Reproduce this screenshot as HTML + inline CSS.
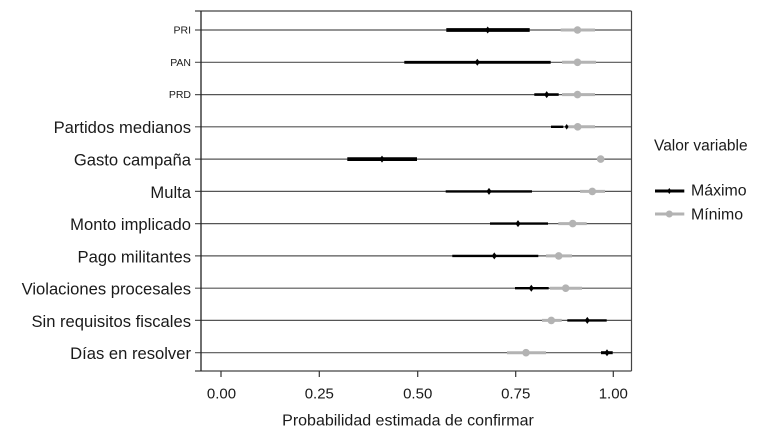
<!DOCTYPE html>
<html><head><meta charset="utf-8"><style>
html,body{margin:0;padding:0;background:#fff;}
svg{display:block;}
text{font-family:"Liberation Sans",sans-serif;fill:#1a1a1a;}
</style></head><body>
<svg width="770" height="438" viewBox="0 0 770 438" xmlns="http://www.w3.org/2000/svg">
<!-- row lines and left ticks -->
<g stroke="#555" stroke-width="1.2">
<line x1="195" y1="30" x2="631" y2="30"/>
<line x1="195" y1="62.3" x2="631" y2="62.3"/>
<line x1="195" y1="94.6" x2="631" y2="94.6"/>
<line x1="195" y1="126.8" x2="631" y2="126.8"/>
<line x1="195" y1="159.1" x2="631" y2="159.1"/>
<line x1="195" y1="191.4" x2="631" y2="191.4"/>
<line x1="195" y1="223.6" x2="631" y2="223.6"/>
<line x1="195" y1="255.9" x2="631" y2="255.9"/>
<line x1="195" y1="288.2" x2="631" y2="288.2"/>
<line x1="195" y1="320.4" x2="631" y2="320.4"/>
<line x1="195" y1="352.7" x2="631" y2="352.7"/>
</g>
<!-- frame -->
<g stroke="#444" stroke-width="1.2" fill="none">
<line x1="195" y1="11" x2="631.5" y2="11"/>
<line x1="631.5" y1="11" x2="631.5" y2="371"/>
<line x1="195" y1="371" x2="631.5" y2="371"/>
</g>
<line x1="201" y1="11" x2="201" y2="371" stroke="#222" stroke-width="1.3"/>
<!-- bottom ticks -->
<g stroke="#333" stroke-width="1.2">
<line x1="221" y1="371" x2="221" y2="377"/>
<line x1="319.3" y1="371" x2="319.3" y2="377"/>
<line x1="417.7" y1="371" x2="417.7" y2="377"/>
<line x1="515.7" y1="371" x2="515.7" y2="377"/>
<line x1="613.3" y1="371" x2="613.3" y2="377"/>
</g>
<!-- gray (Mínimo) -->
<g stroke="#b3b3b3" stroke-width="3" fill="#b3b3b3">
<line x1="560.7" y1="30" x2="595" y2="30"/><circle cx="577.5" cy="30" r="3.8" stroke="none"/>
<line x1="562" y1="62.3" x2="596" y2="62.3"/><circle cx="577.5" cy="62.3" r="3.8" stroke="none"/>
<line x1="562" y1="94.6" x2="595" y2="94.6"/><circle cx="577.5" cy="94.6" r="3.8" stroke="none"/>
<line x1="565" y1="126.8" x2="595" y2="126.8"/><circle cx="577.7" cy="126.8" r="3.8" stroke="none"/>
<line x1="597" y1="159.1" x2="604" y2="159.1"/><circle cx="600.7" cy="159.1" r="3.8" stroke="none"/>
<line x1="580" y1="191.4" x2="605" y2="191.4"/><circle cx="592.3" cy="191.4" r="3.8" stroke="none"/>
<line x1="558.3" y1="223.6" x2="586.7" y2="223.6"/><circle cx="572.7" cy="223.6" r="3.8" stroke="none"/>
<line x1="546" y1="255.9" x2="572" y2="255.9"/><circle cx="558.7" cy="255.9" r="3.8" stroke="none"/>
<line x1="550" y1="288.2" x2="582" y2="288.2"/><circle cx="565.7" cy="288.2" r="3.8" stroke="none"/>
<line x1="542" y1="320.4" x2="561.7" y2="320.4"/><circle cx="551.3" cy="320.4" r="3.8" stroke="none"/>
<line x1="507" y1="352.7" x2="546" y2="352.7"/><circle cx="526" cy="352.7" r="3.8" stroke="none"/>
</g>
<!-- black (Máximo) -->
<g stroke="#000" fill="#000">
<line x1="446.3" y1="30" x2="529.7" y2="30" stroke-width="3.8"/>
<line x1="404.3" y1="62.3" x2="550.7" y2="62.3" stroke-width="2.8"/>
<line x1="534.3" y1="94.6" x2="558.7" y2="94.6" stroke-width="2.6"/>
<line x1="551" y1="126.8" x2="563.3" y2="126.8" stroke-width="2.4"/>
<line x1="347.3" y1="159.1" x2="417" y2="159.1" stroke-width="3.8"/>
<line x1="445.7" y1="191.4" x2="532" y2="191.4" stroke-width="2.4"/>
<line x1="490" y1="223.6" x2="548" y2="223.6" stroke-width="2.4"/>
<line x1="452.3" y1="255.9" x2="538.3" y2="255.9" stroke-width="2.4"/>
<line x1="515" y1="288.2" x2="548.7" y2="288.2" stroke-width="2.4"/>
<line x1="567.3" y1="320.4" x2="606.7" y2="320.4" stroke-width="2.4"/>
<line x1="601" y1="352.7" x2="612.7" y2="352.7" stroke-width="3"/>
</g>
<g fill="#000">
<path d="M487.7 26.5 L490.3 30 L487.7 33.5 L485.1 30 Z"/>
<path d="M477.3 58.8 L479.9 62.3 L477.3 65.8 L474.7 62.3 Z"/>
<path d="M546.7 91.1 L549.3 94.6 L546.7 98.1 L544.1 94.6 Z"/>
<path d="M566.7 124 L568.5 126.8 L566.7 129.6 L564.9 126.8 Z"/>
<path d="M382 155.6 L384.6 159.1 L382 162.6 L379.4 159.1 Z"/>
<path d="M489 187.9 L491.6 191.4 L489 194.9 L486.4 191.4 Z"/>
<path d="M518 220.1 L520.6 223.6 L518 227.1 L515.4 223.6 Z"/>
<path d="M494.3 252.4 L496.9 255.9 L494.3 259.4 L491.7 255.9 Z"/>
<path d="M531.3 284.7 L533.9 288.2 L531.3 291.7 L528.7 288.2 Z"/>
<path d="M587.3 316.9 L589.9 320.4 L587.3 323.9 L584.7 320.4 Z"/>
<path d="M607 349.2 L609.6 352.7 L607 356.2 L604.4 352.7 Z"/>
</g>
<!-- y labels -->
<g text-anchor="end">
<text x="191" y="33.6" font-size="10.5">PRI</text>
<text x="191" y="65.9" font-size="10.5">PAN</text>
<text x="191" y="98.2" font-size="10.5">PRD</text>
<g font-size="16.6">
<text x="191" y="133.2">Partidos medianos</text>
<text x="191" y="165.5">Gasto campaña</text>
<text x="191" y="197.8">Multa</text>
<text x="191" y="230">Monto implicado</text>
<text x="191" y="262.3">Pago militantes</text>
<text x="191" y="294.6">Violaciones procesales</text>
<text x="191" y="326.8">Sin requisitos fiscales</text>
<text x="191" y="359.1">Días en resolver</text>
</g>
</g>
<!-- x labels -->
<g text-anchor="middle" font-size="15">
<text x="221.5" y="398.7">0.00</text>
<text x="319.3" y="398.7">0.25</text>
<text x="417.7" y="398.7">0.50</text>
<text x="515.7" y="398.7">0.75</text>
<text x="613.3" y="398.7">1.00</text>
</g>
<text x="408" y="425.5" text-anchor="middle" font-size="16">Probabilidad estimada de confirmar</text>
<!-- legend -->
<text x="654" y="150.7" font-size="15.5">Valor variable</text>
<line x1="655" y1="191" x2="684.3" y2="191" stroke="#000" stroke-width="3"/>
<path d="M669.3 188 L671.5 191 L669.3 194 L667.1 191 Z" fill="#000"/>
<text x="691" y="195.7" font-size="15.9">Máximo</text>
<line x1="655" y1="214" x2="684.3" y2="214" stroke="#b3b3b3" stroke-width="3"/>
<circle cx="669.3" cy="214" r="3.5" fill="#b3b3b3"/>
<text x="691" y="219.3" font-size="15.9">Mínimo</text>
</svg>
</body></html>
